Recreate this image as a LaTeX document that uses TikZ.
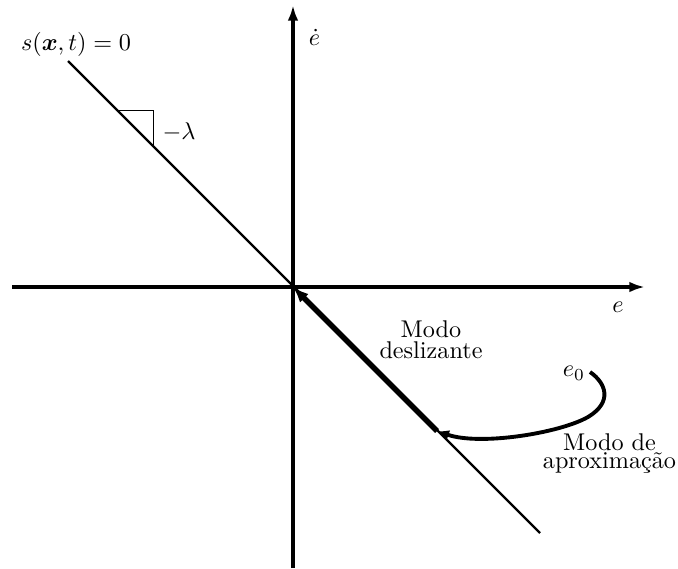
\documentclass[tikz,border=0pt]{standalone}
\usepackage{amsmath}
\usetikzlibrary{arrows.meta}
\begin{document}
\begin{tikzpicture}[x=0.4132pt,y=-0.4132pt,
  axis/.style={line width=1.4pt,-{Latex[length=6.5pt,width=4.4pt]}},
  surf/.style={line width=0.9pt},
  slide/.style={line width=2.2pt,-{Latex[length=6.5pt,width=5pt]}},
  approach/.style={line width=1.6pt,-{Latex[length=5pt,width=4.2pt]}},
  lbl/.style={anchor=base,inner sep=0pt},
  blk/.style={align=center,inner sep=0pt}]
\useasboundingbox (0,0) rectangle (678,568);
% coordinates
\coordinate (O) at (293,287);
\coordinate (xl) at (12,287);
\coordinate (xr) at (645,287);
\coordinate (yb) at (293,568);
\coordinate (yt) at (293,5);
\coordinate (L1) at (68,61);
\coordinate (L2) at (540,533);
\coordinate (J) at (437,431);
\coordinate (E0) at (590,372);
\coordinate (T1) at (118,110);
\coordinate (T2) at (153,110);
\coordinate (T3) at (153,145);
% axes
\draw[axis] (xl) -- (xr);
\draw[axis] (yb) -- (yt);
% sliding surface
\draw[surf] (L1) -- (L2);
\draw[line width=0.4pt] (T1) -- (T2) -- (T3);
% sliding mode segment
\draw[slide] (J) -- (O);
% approach trajectory
\draw[approach] (E0) .. controls (606,383) and (613,402) .. (588,417)
  .. controls (560,433) and (480,446) .. (J);
% labels
\node[lbl] (slab) at (76,50) {$s(\boldsymbol{x},t)=0$};
\node[lbl] (lam) at (179,139) {$-\lambda$};
\node[lbl] (edot) at (314.5,45) {$\dot e$};
\node[lbl] (elab) at (618,312.7) {$e$};
\node[lbl] (e0lab) at (574,376.7) {$e_0$};
\node[blk] (md) at (431,340) {Modo\\[-3.5pt]deslizante};
\node[blk] (ma) at (609.5,453.5) {Modo de\\[-4.2pt]aproxima\c{c}\~ao};
\end{tikzpicture}
\end{document}
